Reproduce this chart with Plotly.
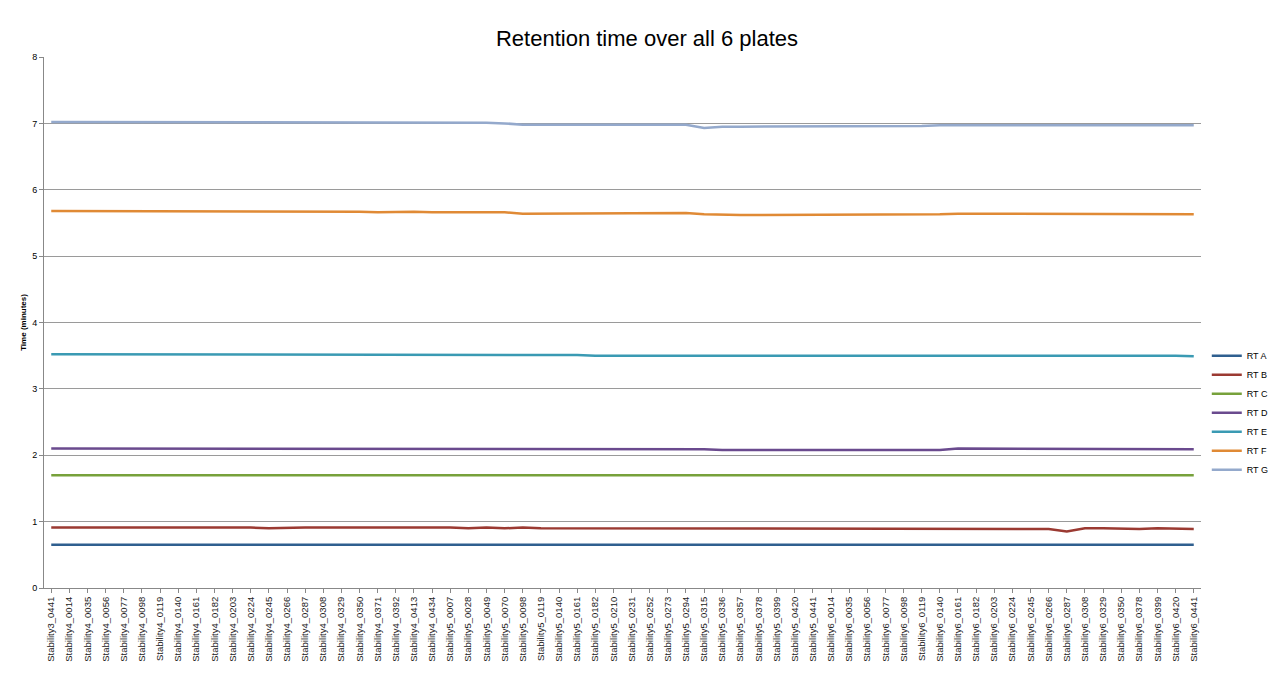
import plotly.graph_objects as go

labels = ["Stability3_0441"] + \
    ["Stability4_%04d" % n for n in [14,35,56,77,98,119,140,161,182,203,224,245,266,287,308,329,350,371,392,413,434]] + \
    ["Stability5_%04d" % n for n in [7,28,49,70,98,119,140,161,182,210,231,252,273,294,315,336,357,378,399,420,441]] + \
    ["Stability6_%04d" % n for n in [14,35,56,77,98,119,140,161,182,203,224,245,266,287,308,329,350,378,399,420,441]]

rt_a = [0.65]*20 + [0.65,0.65,0.64,0.65,0.64,0.64,0.65,0.65,0.64,0.65,0.64,0.65,0.64,0.65,0.65,0.65,0.65,0.64,0.65,0.65,0.65,0.65,0.65,0.65,0.64,0.65,0.65,0.65,0.65,0.65,0.65,0.65,0.65,0.64,0.65,0.65,0.65,0.65,0.65,0.65,0.64,0.65,0.65,0.65]
rt_b = [0.91,0.91,0.91,0.92,0.91,0.91,0.91,0.91,0.92,0.91,0.91,0.91,0.90,0.91,0.91,0.91,0.91,0.92,0.91,0.91,0.91,0.91,0.91,0.90,0.91,0.90,0.91,0.90,0.90,0.90,0.90,0.90,0.90,0.90,0.90,0.90,0.90,0.90,0.90,0.89,0.90,0.90,0.89,0.89,0.89,0.89,0.90,0.89,0.89,0.89,0.89,0.89,0.89,0.90,0.89,0.89,0.85,0.90,0.90,0.89,0.89,0.90,0.89,0.89]
rt_c = [1.70,1.70,1.70,1.69,1.70,1.70,1.70,1.70,1.70,1.70,1.70,1.70,1.70,1.70,1.70,1.70,1.70,1.70,1.70,1.70,1.70,1.69,1.70,1.70,1.70,1.70,1.70,1.70,1.70,1.70,1.70,1.70,1.70,1.70,1.69,1.70,1.70,1.70,1.70,1.70,1.69,1.70,1.70,1.70,1.69,1.69,1.70,1.70,1.70,1.70,1.70,1.69,1.70,1.70,1.70,1.70,1.70,1.70,1.70,1.70,1.70,1.70,1.70,1.70]
rt_d = [2.10]*36 + [2.09,2.08,2.08,2.08,2.08,2.09,2.08,2.08,2.08,2.08,2.08,2.08,2.08,2.08,2.10,2.10,2.10,2.10,2.10,2.10,2.10,2.10,2.10,2.10,2.10,2.09,2.09,2.09]
rt_e = [3.52]*14 + [3.51]*16 + [3.50,3.50,3.51,3.50,3.50,3.50,3.50,3.50,3.50,3.50,3.50,3.50,3.50,3.50,3.50,3.50,3.50,3.50,3.50,3.50,3.50,3.51,3.50,3.50,3.51,3.50,3.50,3.50,3.50,3.50,3.50,3.50,3.50,3.49]
rt_f = [5.68]*13 + [5.67,5.67,5.68,5.67,5.67,5.66,5.67,5.67,5.66] + [5.66,5.66,5.66,5.66,5.64,5.64,5.65,5.65,5.65,5.65,5.65,5.65,5.65,5.65,5.63] + [5.62,5.62,5.62,5.62,5.62,5.62,5.62,5.63,5.63,5.63,5.63,5.63,5.63] + [5.64,5.64,5.64,5.64,5.64,5.64,5.64,5.64,5.64,5.64,5.63,5.63,5.63,5.63,5.63]
rt_g = [7.02]*20 + [7.01]*5 + [7.00,6.98,6.98,6.98,6.98,6.98,6.98,6.98,6.98,6.98,6.98,6.93,6.95,6.95,6.95,6.95,6.95,6.96,6.96,6.96,6.96,6.96,6.96,6.96,6.97,6.97,6.97,6.97,6.97,6.97,6.97,6.97,6.97,6.97,6.97,6.97,6.97,6.97,6.97]

series = [("RT A", rt_a, "#2f5f8f"), ("RT B", rt_b, "#9b3a32"), ("RT C", rt_c, "#77a13b"),
          ("RT D", rt_d, "#6a4a8e"), ("RT E", rt_e, "#3a9ab3"), ("RT F", rt_f, "#e08a35"),
          ("RT G", rt_g, "#94a9cc")]

fig = go.Figure()
for name, vals, col in series:
    fig.add_trace(go.Scatter(x=labels, y=vals, name=name, mode="lines",
                             line=dict(color=col, width=2.5)))

fig.update_layout(
    width=1278, height=691, paper_bgcolor="white", plot_bgcolor="white",
    title=dict(text="Retention time over all 6 plates", x=0.5, y=0.968, xanchor="center",
               font=dict(family="Liberation Sans, Arial", size=22, color="black")),
    margin=dict(l=36, r=78, t=49, b=111),
    font=dict(family="Liberation Sans, Arial", size=9, color="black"),
    legend=dict(x=1.005, y=0.33, xanchor="left", yanchor="middle", font=dict(size=9),
                tracegroupgap=0, itemwidth=30),
    xaxis=dict(tickangle=-90, tickfont=dict(size=9.5, color="#222"), showgrid=False,
               showline=True, linecolor="#888", ticks="outside", ticklen=4, tickcolor="#888",
               range=[-0.4, len(labels)-0.6]),
    yaxis=dict(range=[0, 8], dtick=1, showgrid=True, gridcolor="#9a9a9a", gridwidth=1,
               showline=True, linecolor="#888", ticks="outside", ticklen=4, tickcolor="#888",
               title=dict(text="<b>Time (minutes)</b>", font=dict(size=8), standoff=4),
               tickfont=dict(size=9)),
)
fig.write_html("out.html")
